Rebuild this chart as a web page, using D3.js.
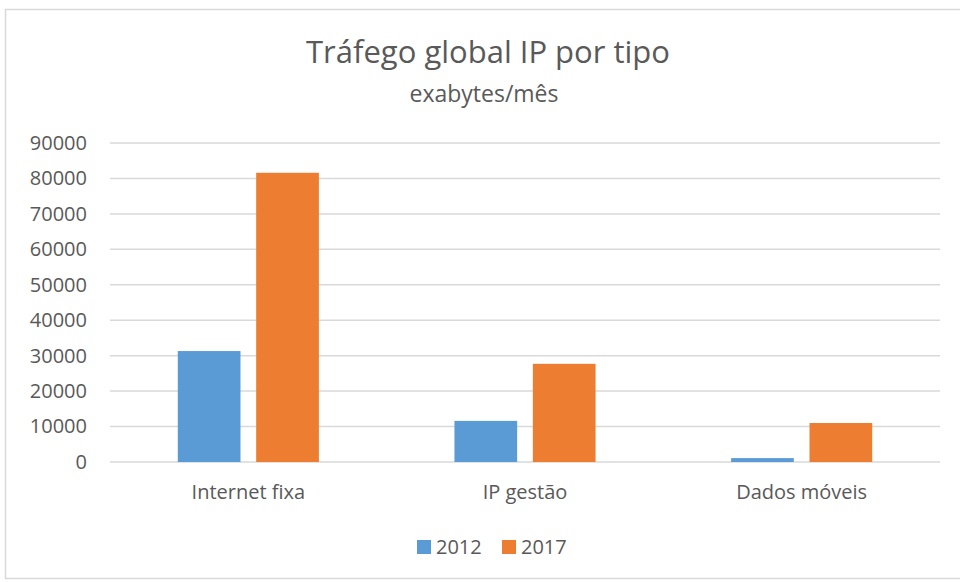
<!DOCTYPE html>
<html>
<head>
<meta charset="utf-8">
<script src="https://cdn.jsdelivr.net/npm/d3@7"></script>
<style>
  body { margin: 0; background: #fff; }
  text { font-family: "Open Sans", "Noto Sans", sans-serif; fill: #595959; }
</style>
</head>
<body>
<div id="chart"></div>
<script>
var categories = ["Internet fixa", "IP gestão", "Dados móveis"];
var years = ["2012", "2017"];
var values2012 = [31300, 11600, 1100];
var values2017 = [81600, 27700, 11000];
var yTicks = [0, 10000, 20000, 30000, 40000, 50000, 60000, 70000, 80000, 90000];

var colors = {"2012": "#5b9bd5", "2017": "#ed7d31"};

var rows = categories.map(function (c, i) {
    return {cat: c, "2012": values2012[i], "2017": values2017[i]};
});

var W = 960, H = 582;
var margin = {top: 143, left: 110},
    width = 940 - margin.left,
    height = 462 - margin.top;

var svg = d3.select("#chart").append("svg")
    .attr("width", W)
    .attr("height", H);

// chart frame
svg.append("rect")
    .attr("x", 5.5).attr("y", 9.5)
    .attr("width", W + 10).attr("height", H - 13)
    .attr("fill", "none")
    .attr("stroke", "#d9d9d9")
    .attr("stroke-width", 1.5);

svg.append("text")
    .attr("x", 488).attr("y", 63)
    .attr("text-anchor", "middle")
    .style("font-size", "31px")
    .text("Tráfego global IP por tipo");

svg.append("text")
    .attr("x", 484).attr("y", 102)
    .attr("text-anchor", "middle")
    .style("font-size", "23px")
    .text("exabytes/mês");

var g = svg.append("g")
    .attr("transform", "translate(" + margin.left + "," + margin.top + ")");

var x0 = d3.scaleBand()
    .domain(categories)
    .range([0, width])
    .paddingInner(0.49)
    .paddingOuter(0.245);

var x1 = d3.scaleBand()
    .domain(years)
    .range([0, x0.bandwidth()])
    .paddingInner(0.2)
    .paddingOuter(0);

var y = d3.scaleLinear()
    .domain([0, 90000])
    .range([height, 0]);

// gridlines
g.append("g")
    .selectAll("line")
    .data(yTicks)
    .enter()
    .append("line")
    .attr("x1", 0).attr("x2", width)
    .attr("y1", function (d) { return y(d); })
    .attr("y2", function (d) { return y(d); })
    .attr("stroke", "#d9d9d9")
    .attr("stroke-width", 1.5);

// y axis labels
var yAxis = d3.axisLeft(y)
    .tickValues(yTicks)
    .tickSize(0)
    .tickPadding(23)
    .tickFormat(d3.format("d"));

var gy = g.append("g").call(yAxis);
gy.select(".domain").remove();
gy.selectAll("text").style("font-size", "20px").attr("fill", "#595959");

// bars
var groups = g.selectAll(".grp")
    .data(rows)
    .enter()
    .append("g")
    .attr("class", "grp")
    .attr("transform", function (d) { return "translate(" + x0(d.cat) + ",0)"; });

groups.selectAll("rect")
    .data(function (d) { return years.map(function (k) { return {key: k, value: d[k]}; }); })
    .enter()
    .append("rect")
    .attr("x", function (d) { return x1(d.key); })
    .attr("y", function (d) { return y(d.value); })
    .attr("width", x1.bandwidth())
    .attr("height", function (d) { return height - y(d.value); })
    .attr("fill", function (d) { return colors[d.key]; });

// category axis
var xAxis = d3.axisBottom(x0).tickSize(0).tickPadding(23);
var gx = g.append("g")
    .attr("transform", "translate(0," + height + ")")
    .call(xAxis);
gx.select(".domain").remove();
gx.selectAll("text").style("font-size", "20px").attr("fill", "#595959");

// legend
var legend = svg.append("g");
var lx = [417, 502];
years.forEach(function (k, i) {
    legend.append("rect")
        .attr("x", lx[i]).attr("y", 540)
        .attr("width", 14).attr("height", 14)
        .attr("fill", colors[k]);
    legend.append("text")
        .attr("x", lx[i] + 19).attr("y", 554)
        .style("font-size", "20px")
        .text(k);
});
</script>
</body>
</html>
